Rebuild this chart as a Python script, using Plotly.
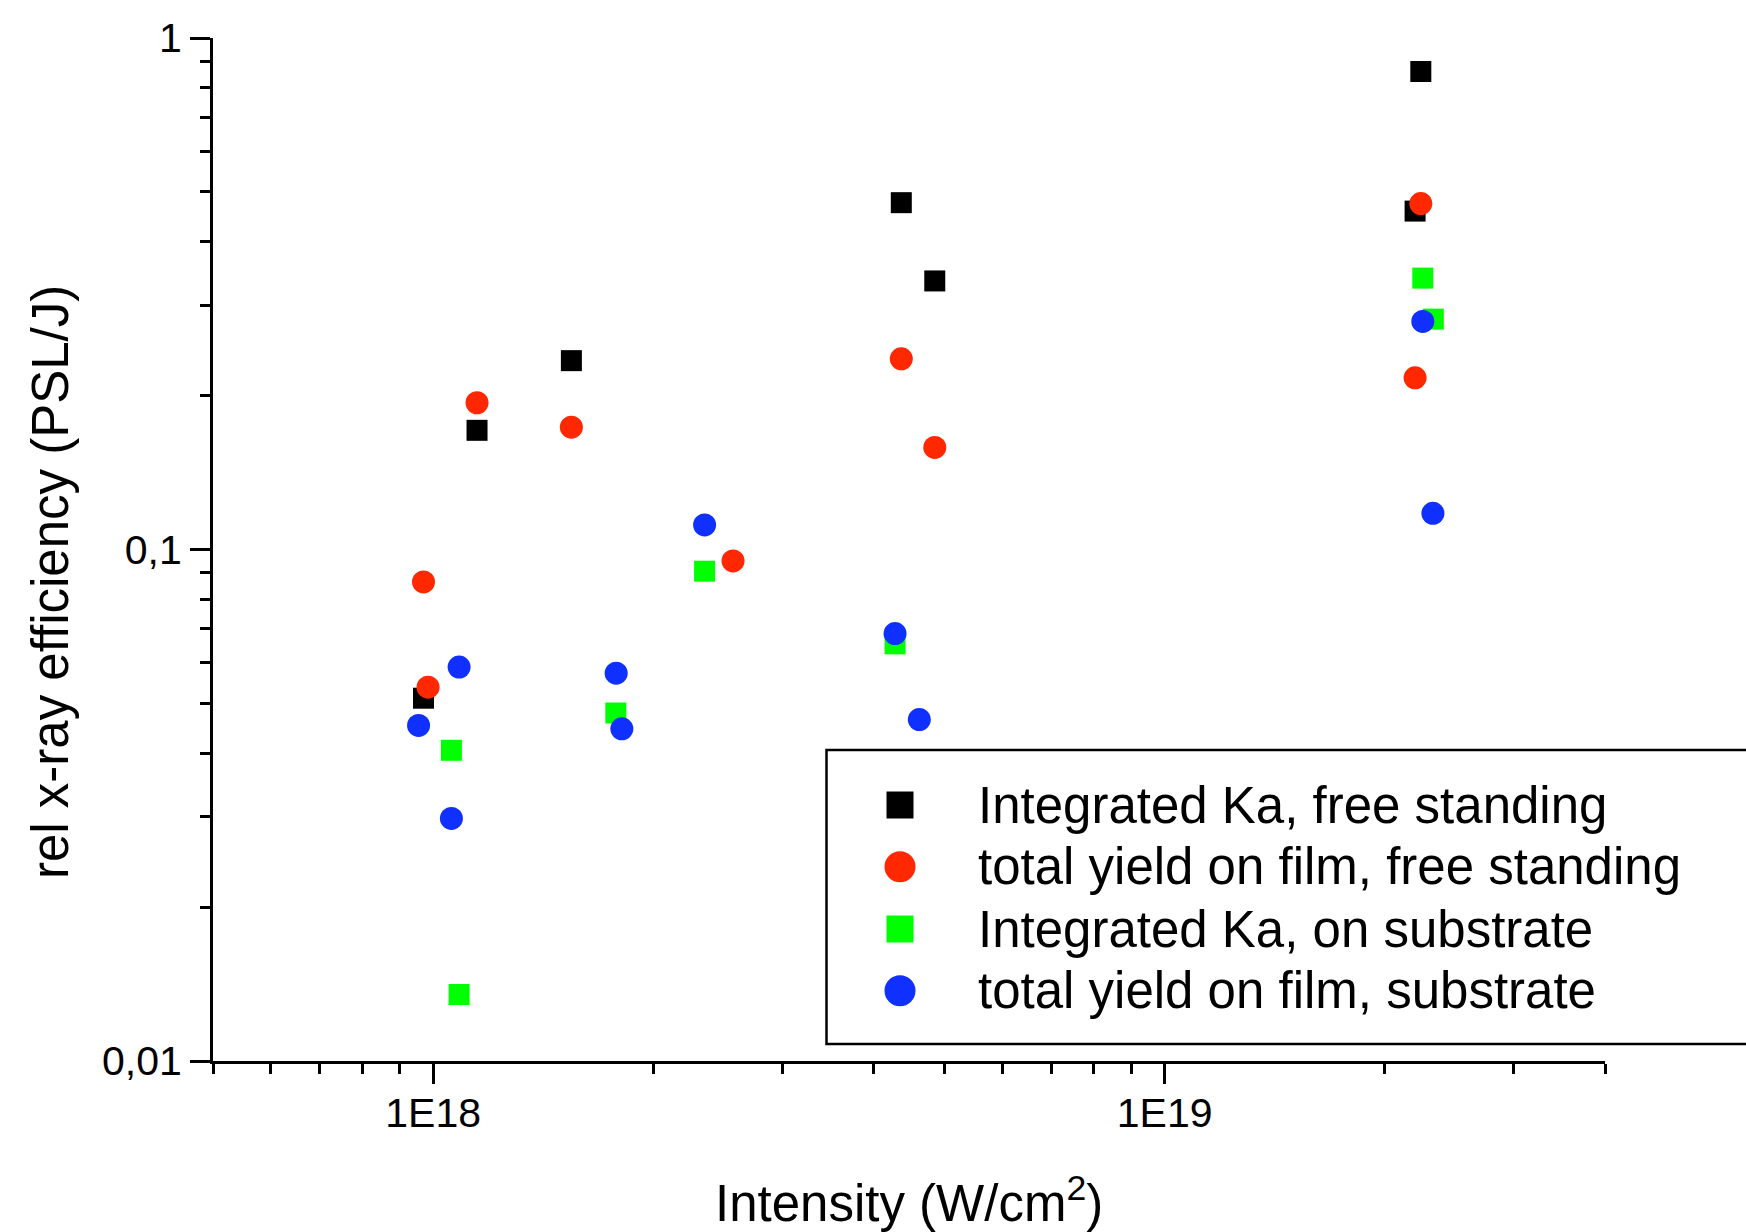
import math
import plotly.graph_objects as go

# ---------------- data ----------------
ka_free_x = [9.70e17, 1.148e18, 1.545e18, 4.365e18, 4.85e18, 2.20e19, 2.24e19]
ka_free_y = [0.0512, 0.171, 0.234, 0.4765, 0.335, 0.4588, 0.860]

tot_free_x = [9.70e17, 9.84e17, 1.148e18, 1.545e18, 2.57e18, 4.365e18, 4.85e18, 2.24e19, 2.20e19]
tot_free_y = [0.0864, 0.0538, 0.1936, 0.1734, 0.0950, 0.236, 0.1583, 0.4746, 0.2166]

ka_sub_x = [1.059e18, 1.085e18, 1.777e18, 2.35e18, 4.28e18, 2.254e19, 2.33e19]
ka_sub_y = [0.0405, 0.01349, 0.0479, 0.0907, 0.0654, 0.3393, 0.2821]

tot_sub_x = [9.55e17, 1.085e18, 1.059e18, 1.779e18, 1.811e18, 2.35e18, 4.28e18, 4.62e18, 2.254e19, 2.327e19]
tot_sub_y = [0.0453, 0.0589, 0.0298, 0.0573, 0.0446, 0.1117, 0.0685, 0.0465, 0.2792, 0.1177]

series_names = [
    "Integrated Ka, free standing",
    "total yield on film, free standing",
    "Integrated Ka, on substrate",
    "total yield on film, substrate",
]
series_colors = ["#000000", "#FF2800", "#00FF00", "#1030FF"]
series_symbols = ["square", "circle", "square", "circle"]

x_tickvals = [1e18, 1e19]
x_ticktext = ["1E18", "1E19"]
x_minor = [5e17, 6e17, 7e17, 8e17, 9e17,
           2e18, 3e18, 4e18, 5e18, 6e18, 7e18, 8e18, 9e18,
           2e19, 3e19, 4e19]
y_tickvals = [0.01, 0.1, 1]
y_ticktext = ["0,01", "0,1", "1"]
y_minor = [0.02, 0.03, 0.04, 0.05, 0.06, 0.07, 0.08, 0.09,
           0.2, 0.3, 0.4, 0.5, 0.6, 0.7, 0.8, 0.9]

x_range = [5e17, 4e19]
y_range = [0.01, 1]

# ---------------- layout geometry ----------------
W, H = 1746, 1232
L, R, T, B = 213, 141, 38, 171
FONT = "Liberation Sans, Arial, sans-serif"


def pxx(px):
    return (px - L) / (W - L - R)


def pyy(py):
    return 1 - (py - T) / (H - T - B)


xs = [ka_free_x, tot_free_x, ka_sub_x, tot_sub_x]
ys = [ka_free_y, tot_free_y, ka_sub_y, tot_sub_y]
sizes = [21, 23, 21, 23]

fig = go.Figure()
for x, y, name, col, sym, sz in zip(xs, ys, series_names, series_colors, series_symbols, sizes):
    fig.add_trace(go.Scatter(
        x=x, y=y, mode="markers", name=name, showlegend=False,
        marker=dict(symbol=sym, size=sz, color=col, line=dict(width=0)),
    ))

fig.update_xaxes(
    type="log", range=[math.log10(x_range[0]), math.log10(x_range[1])],
    showline=True, linewidth=3, linecolor="black", mirror=False,
    showgrid=False, zeroline=False,
    tickmode="array", tickvals=x_tickvals, ticktext=x_ticktext,
    ticks="outside", ticklen=20, tickwidth=3, tickcolor="black",
    ticklabelstandoff=-6,
    tickfont=dict(family=FONT, size=41, color="black"),
    minor=dict(tickvals=x_minor, ticks="outside", ticklen=10, tickwidth=3,
               tickcolor="black", showgrid=False),
)
fig.update_yaxes(
    type="log", range=[math.log10(y_range[0]), math.log10(y_range[1])],
    showline=True, linewidth=3, linecolor="black", mirror=False,
    showgrid=False, zeroline=False,
    tickmode="array", tickvals=y_tickvals, ticktext=y_ticktext,
    ticks="outside", ticklen=20, tickwidth=3, tickcolor="black",
    tickfont=dict(family=FONT, size=41, color="black"),
    minor=dict(tickvals=y_minor, ticks="outside", ticklen=10, tickwidth=3,
               tickcolor="black", showgrid=False),
)

annotations = [
    dict(text="Intensity (W/cm<sup>2</sup>)", x=pxx(909), y=pyy(1200),
         xref="paper", yref="paper", xanchor="center", yanchor="middle",
         showarrow=False, font=dict(family=FONT, size=51, color="black")),
    dict(text="rel x-ray efficiency (PSL/J)", x=pxx(50), y=pyy(582),
         xref="paper", yref="paper", xanchor="center", yanchor="middle",
         textangle=-90, showarrow=False,
         font=dict(family=FONT, size=51, color="black")),
]

shapes = [
    dict(type="rect", xref="paper", yref="paper",
         x0=pxx(826.5), x1=pxx(1790), y0=pyy(1044), y1=pyy(750),
         line=dict(color="black", width=2.5), fillcolor="white", layer="above"),
]

leg_y = [805, 866.7, 929, 990.7]
leg_sym_size = [27, 31, 27, 31]
for name, col, sym, ly, ss in zip(series_names, series_colors, series_symbols, leg_y, leg_sym_size):
    shapes.append(dict(
        type="rect" if sym == "square" else "circle",
        xref="paper", yref="paper", xsizemode="pixel", ysizemode="pixel",
        xanchor=pxx(900), yanchor=pyy(ly),
        x0=-ss / 2, x1=ss / 2, y0=-ss / 2, y1=ss / 2,
        fillcolor=col, line=dict(width=0), layer="above",
    ))
    annotations.append(dict(
        text=name, x=pxx(976), y=pyy(ly), xref="paper", yref="paper",
        xanchor="left", yanchor="middle", showarrow=False,
        font=dict(family=FONT, size=51, color="black"),
    ))

fig.update_layout(
    width=W, height=H,
    margin=dict(l=L, r=R, t=T, b=B, autoexpand=False),
    paper_bgcolor="white", plot_bgcolor="white",
    showlegend=False,
    annotations=annotations, shapes=shapes,
    font=dict(family=FONT, color="black"),
)

fig.write_html("out.html")
